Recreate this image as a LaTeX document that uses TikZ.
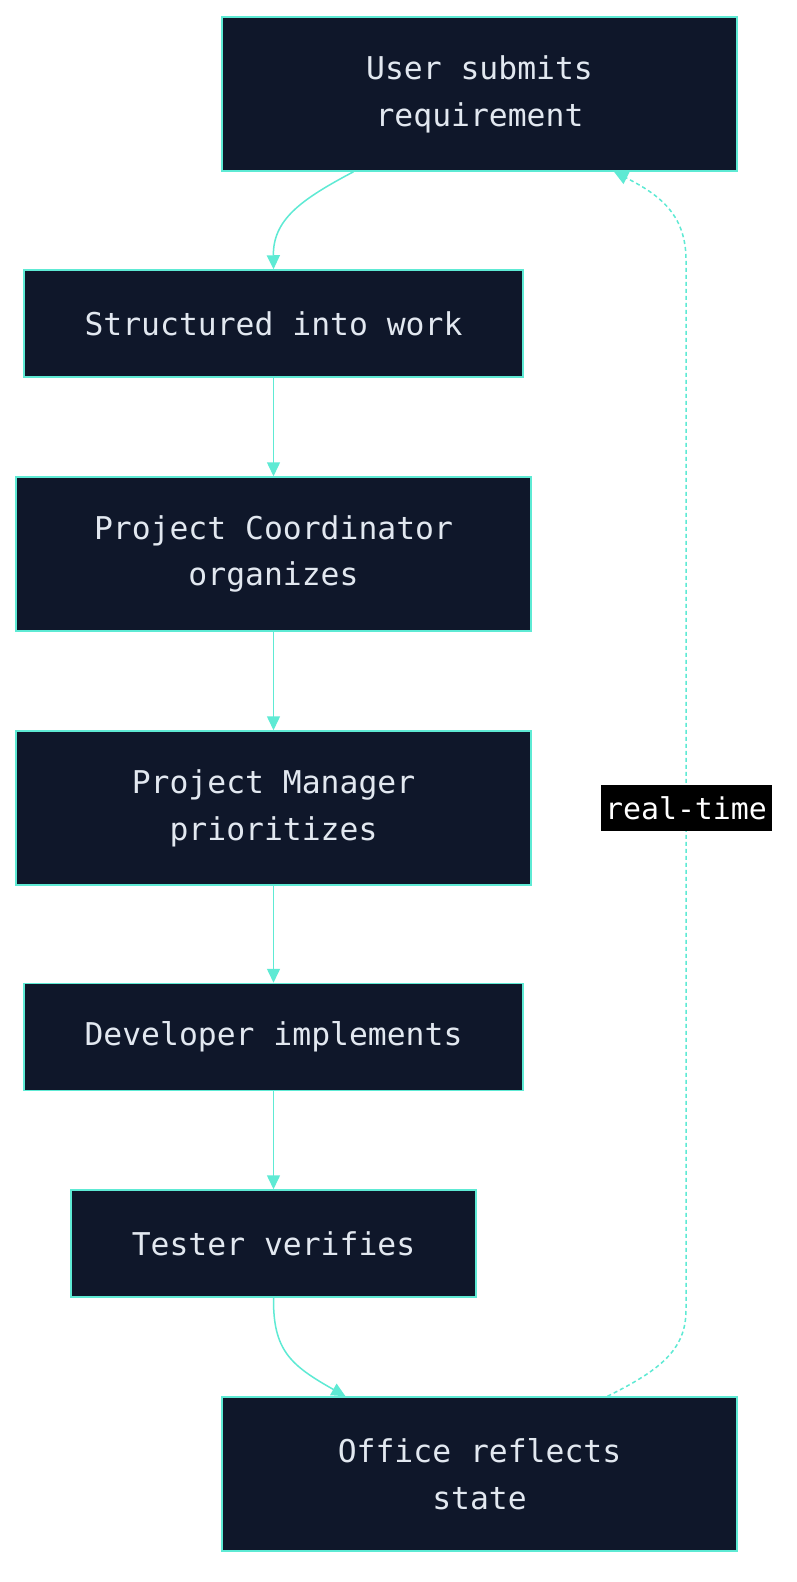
\documentclass[tikz,border=0pt]{standalone}
\usepackage{fontspec}
\setmonofont{DejaVu Sans Mono}
\usetikzlibrary{arrows.meta}
\definecolor{bx}{HTML}{0F172A}
\definecolor{ln}{HTML}{5EEAD4}
\definecolor{tx}{HTML}{E2E8F0}
\begin{document}
\begin{tikzpicture}[x=1bp,y=-1bp,
 box/.style={draw=ln,fill=bx,line width=1.5bp,text=tx,font=\ttfamily\fontsize{31.5}{47}\selectfont,align=center,inner sep=0pt},
 ar/.style={draw=ln,line width=1.5bp,-{Triangle[length=14bp,width=13bp]}}]
\useasboundingbox[fill=white] (0,0) rectangle (796,1582);
\node[box,minimum width=515bp,minimum height=154bp] (a) at (479.5,94) {User submits\\ requirement};
\node[box,minimum width=499bp,minimum height=107bp] (b) at (273.5,323.5) {Structured into work};
\node[box,minimum width=515bp,minimum height=154bp] (c) at (273.5,554) {Project Coordinator\\organizes};
\node[box,minimum width=515bp,minimum height=154bp] (d) at (273.5,808) {Project Manager\\ prioritizes};
\node[box,minimum width=499bp,minimum height=107bp] (e) at (273.5,1037) {Developer implements};
\node[box,minimum width=405bp,minimum height=107bp] (f) at (273.5,1243.5) {Tester verifies};
\node[box,minimum width=515bp,minimum height=154bp] (g) at (479.5,1474) {Office reflects\\state};
\draw[ar] ([xshift=-126bp]a.south) .. controls (300,200) and (273,220) .. (b.north);
\draw[ar] (b) -- (c);
\draw[ar] (c) -- (d);
\draw[ar] (d) -- (e);
\draw[ar] (e) -- (f);
\draw[ar] (f.south) .. controls (273,1350) and (290,1365) .. ([xshift=-134bp]g.north);
\coordinate (t1) at (686,260);
\coordinate (t2) at (686,1310);
\draw[ar,dash pattern=on 4bp off 3bp] ([xshift=128bp]g.north) .. controls (660,1370) and (686,1350) .. (t2) -- (t1) .. controls (686,215) and (660,195) .. ([xshift=134.5bp]a.south);
\node[fill=black,text=white,font=\ttfamily\fontsize{30}{30}\selectfont,inner sep=1bp,minimum width=171bp,minimum height=46bp] (l) at (686,808) {real-time};
\end{tikzpicture}
\end{document}
